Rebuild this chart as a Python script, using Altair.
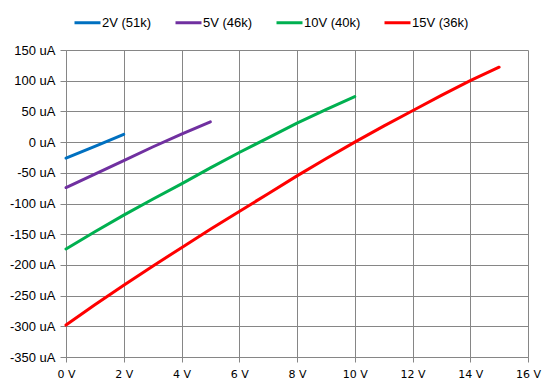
import altair as alt
import pandas as pd

series_names = ["2V (51k)", "5V (46k)", "10V (40k)", "15V (36k)"]
series_colors = ["#0070C0", "#7030A0", "#00B050", "#FF0000"]

v_2 = [0, 1, 2]
i_2 = [-26, -7, 12.5]

v_5 = [0, 1, 2, 3, 4, 5]
i_5 = [-74, -52, -30, -8, 13, 33]

v_10 = [0, 1, 2, 3, 4, 5, 6, 7, 8, 9, 10]
i_10 = [-174, -146, -119, -93, -68, -42, -17, 7, 31, 53, 74]

v_15 = [0, 1, 2, 3, 4, 5, 6, 7, 8, 9, 10, 11, 12, 13, 14, 15]
i_15 = [-298, -265, -233, -202, -172, -142, -113, -84, -55, -27, 0, 26, 51, 76, 100, 122]

x_ticks = [0, 2, 4, 6, 8, 10, 12, 14, 16]
y_ticks = [150, 100, 50, 0, -50, -100, -150, -200, -250, -300, -350]

rows = []
for name, vs, ids in zip(series_names, [v_2, v_5, v_10, v_15], [i_2, i_5, i_10, i_15]):
    for v, i in zip(vs, ids):
        rows.append({"V": v, "I": i, "series": name})
df = pd.DataFrame(rows)

grid = "#868686"

chart = alt.Chart(df).mark_line(strokeWidth=3, strokeCap="round").encode(
    x=alt.X("V:Q",
            scale=alt.Scale(domain=[0, 16], nice=False, zero=False),
            axis=alt.Axis(values=x_ticks, labelExpr="datum.value + ' V'", title=None,
                          grid=True, gridColor=grid, gridWidth=1,
                          domainColor=grid, tickColor=grid, tickSize=5,
                          labelFont="DejaVu Sans", labelFontSize=11, labelColor="#000000",
                          labelPadding=6, labelFlush=False)),
    y=alt.Y("I:Q",
            scale=alt.Scale(domain=[-350, 150], nice=False, zero=False),
            axis=alt.Axis(values=y_ticks, labelExpr="datum.value + ' uA'", title=None,
                          grid=True, gridColor=grid, gridWidth=1,
                          domainColor=grid, tickColor=grid, tickSize=6,
                          labelFont="Liberation Sans", labelFontSize=13, labelColor="#000000",
                          labelPadding=5)),
    color=alt.Color("series:N",
                    scale=alt.Scale(domain=series_names, range=series_colors),
                    sort=series_names,
                    legend=alt.Legend(title=None, orient="none", legendX=7, legendY=-42,
                                      direction="horizontal", columns=4, columnPadding=17,
                                      symbolType="stroke", symbolSize=676, symbolStrokeWidth=3,
                                      labelOffset=0, labelFont="Liberation Sans",
                                      labelFontSize=13, labelColor="#000000")),
    order="V:Q",
).properties(
    width=462, height=307,
    autosize=alt.AutoSizeParams(type="none"),
    padding={"left": 58, "top": 42, "right": 20, "bottom": 25},
).configure_view(strokeWidth=0)

chart.save("out.html", embed_options={"renderer": "svg", "actions": False})
